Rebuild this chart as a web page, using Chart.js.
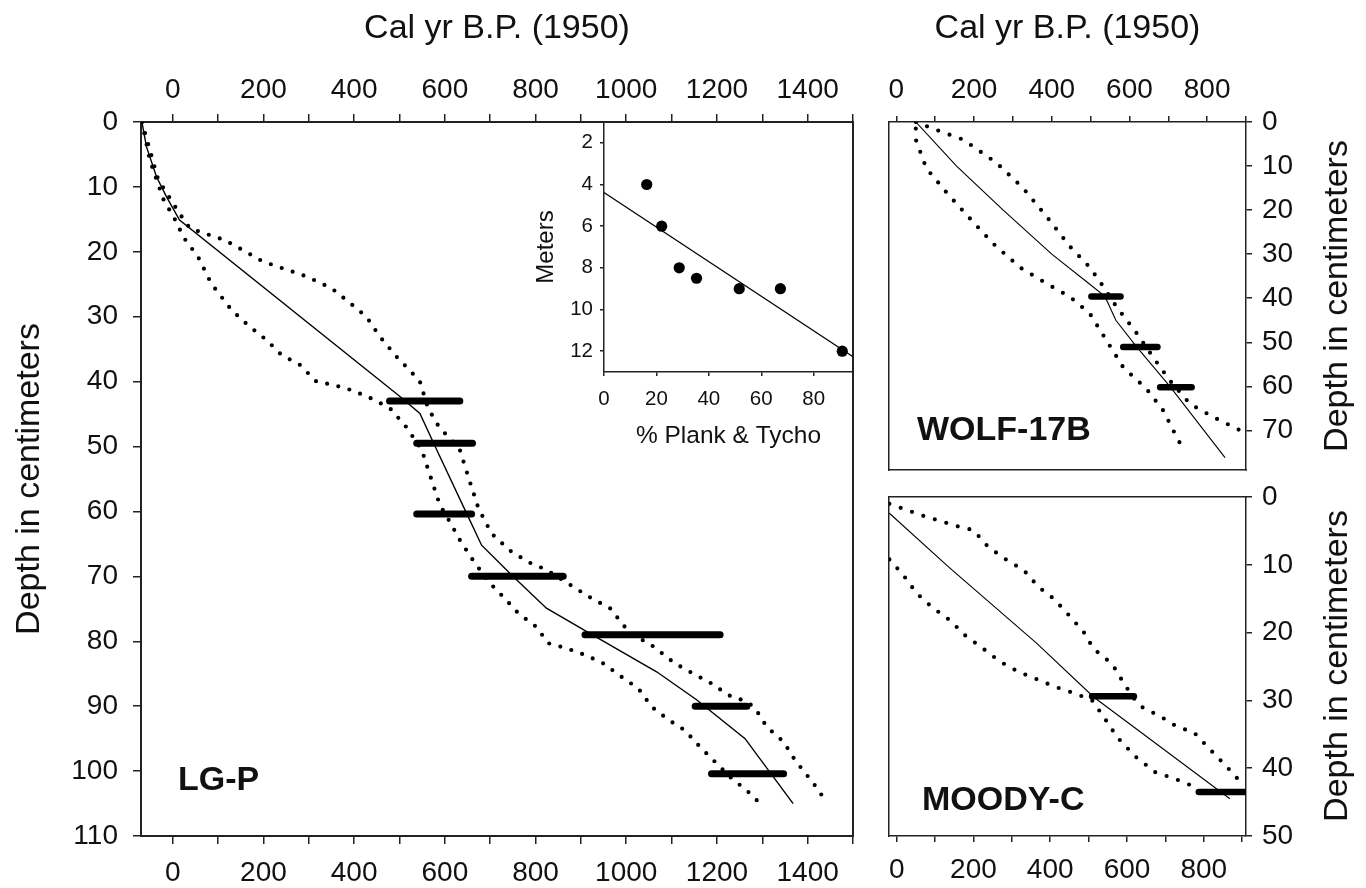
<!DOCTYPE html>
<html>
<head>
<meta charset="utf-8">
<script src="https://cdn.jsdelivr.net/npm/chart.js@4.4.1/dist/chart.umd.min.js"></script>
<style>
  body { margin: 0; background: #fff; }
  #page { position: relative; width: 1366px; height: 888px; overflow: hidden; background: #fff; }
  canvas { position: absolute; }
</style>
</head>
<body>
<div id="page">
  <canvas id="lgp" width="880" height="888" style="left:0px;top:0px"></canvas>
  <canvas id="inset" width="360" height="360" style="left:500px;top:100px"></canvas>
  <canvas id="wolf" width="496" height="480" style="left:870px;top:0px"></canvas>
  <canvas id="moody" width="496" height="408" style="left:870px;top:480px"></canvas>
</div>
<script>
// ---- LG-P core (age in cal yr BP, depth in cm) ----
const lgpAge = [-68, -58, -36, -14, 15, 501, 545, 582, 648, 681, 750, 824, 913, 1067, 1155, 1262, 1368];
const lgpDepth = [0, 3.8, 8.4, 11.5, 15.1, 42.3, 44.9, 50.5, 60.3, 65.2, 70, 74.9, 78.5, 84.7, 89, 95, 105];
const lgpOldAge = [-68, -32, 15, 38, 115, 199, 295, 350, 391, 427, 457, 494, 527, 545, 563, 589, 611, 633, 655, 674, 703, 743, 784, 824, 883, 924, 964, 997, 1016, 1060, 1107, 1148, 1188, 1225, 1266, 1284, 1310, 1347, 1372, 1413, 1431];
const lgpOldDepth = [0, 8.9, 14.1, 16.4, 18.2, 21.5, 23.8, 25.6, 27.9, 30, 33.1, 36.2, 38.6, 40, 44.1, 47.2, 48.7, 50.5, 55.4, 59.5, 63.4, 66, 67.8, 69, 71.6, 73.4, 74.9, 77.8, 79, 80.8, 83.4, 85, 86.5, 88.3, 89.3, 90.3, 93.2, 95.5, 98.3, 101.9, 103.7];
const lgpYoungAge = [-68, -50, -20, 8, 23, 56, 85, 130, 166, 207, 240, 280, 317, 354, 394, 438, 479, 515, 549, 571, 589, 611, 633, 659, 696, 732, 762, 802, 828, 869, 909, 949, 990, 1027, 1056, 1093, 1129, 1163, 1196, 1229, 1269, 1288];
const lgpYoungDepth = [0, 6, 12, 15.4, 17.7, 20.8, 24.9, 29, 31.3, 33.6, 35.9, 37.4, 40, 40.5, 41.3, 42.6, 44.1, 47, 50.5, 55.2, 59, 61.6, 64.4, 67.2, 70.8, 73.4, 75.7, 77.8, 80.3, 81.1, 82.1, 83.4, 85.5, 87.3, 90.1, 92.1, 93.7, 96.3, 98.6, 100.9, 103.2, 104.5];
const lgpDashDepth = [43, 49.5, 60.4, 70, 79, 90, 100.4];
const lgpDashFrom = [478, 538, 538, 659, 909, 1152, 1188];
const lgpDashTo = [633, 661, 659, 861, 1207, 1266, 1347];
const lgpAgeTicks = [0, 100, 200, 300, 400, 500, 600, 700, 800, 900, 1000, 1100, 1200, 1300, 1400, 1500];
const lgpAgeLabels = ['0', '', '200', '', '400', '', '600', '', '800', '', '1000', '', '1200', '', '1400', ''];
const lgpDepthTicks = [0, 10, 20, 30, 40, 50, 60, 70, 80, 90, 100, 110];

// ---- inset: depth vs % Plank & Tycho ----
const insetPct = [16.3, 22, 28.7, 35.3, 51.6, 67.3, 90.9];
const insetMeters = [4, 6, 8, 8.5, 9, 9, 12];
const insetFitPct = [0, 95];
const insetFitMeters = [4.38, 12.27];
const insetPctTicks = [0, 20, 40, 60, 80];
const insetMeterTicks = [2, 4, 6, 8, 10, 12];

// ---- WOLF-17B ----
const wolfAge = [50, 155, 275, 400, 493, 537, 565, 618, 704, 846];
const wolfDepth = [0, 10, 20, 30, 36.5, 39.6, 45, 51, 60, 76.2];
const wolfOldAge = [50, 103, 172, 258, 326, 387, 447, 498, 533, 567, 619, 661, 704, 756, 816, 885, 900];
const wolfOldDepth = [0, 1.8, 4, 9.3, 15, 21.5, 28.3, 33, 37.4, 42, 48, 53.4, 58.7, 64, 67, 70, 70.8];
const wolfYoungAge = [50, 50, 77, 129, 185, 249, 318, 387, 447, 498, 541, 584, 644, 687, 722, 743];
const wolfYoungDepth = [1.5, 4, 10.5, 16, 21.5, 27.6, 33, 36.7, 39.7, 43.5, 49.6, 55.7, 60.6, 65.5, 71.6, 75];
const wolfDashDepth = [39.6, 51.1, 60.2];
const wolfDashFrom = [502, 584, 679];
const wolfDashTo = [577, 672, 760];
const wolfDepthTicks = [0, 10, 20, 30, 40, 50, 60, 70];

// ---- MOODY-C ----
const moodyAge = [-19, 135, 365, 513, 868];
const moodyDepth = [2.4, 10.3, 21.6, 29.5, 44.5];
const moodyOldAge = [-19, 65, 157, 200, 239, 287, 331, 370, 409, 448, 487, 513, 561, 592, 618, 640, 688, 731, 774, 814, 857, 892];
const moodyOldDepth = [1, 2.7, 4.3, 4.9, 7.4, 9.3, 10.8, 13.3, 15, 17.4, 19.9, 22.4, 24.6, 27.5, 29.7, 31, 32.4, 33.9, 34.7, 37.1, 39.6, 41.8];
const moodyYoungAge = [-19, 17, 52, 91, 139, 178, 226, 270, 318, 366, 413, 466, 509, 539, 574, 622, 674, 722, 766, 788];
const moodyYoungDepth = [9.2, 11.5, 14.2, 16.2, 18.2, 20.4, 22.4, 24.3, 25.8, 26.9, 28, 29, 30, 32.4, 35.4, 38.3, 40.6, 41.5, 42.5, 43.3];
const moodyDashDepth = [29.4, 43.5];
const moodyDashFrom = [509, 787];
const moodyDashTo = [618, 910];
const moodyDepthTicks = [0, 10, 20, 30, 40, 50];

// small-core age axis (WOLF + MOODY)
const smallAgeTicks = [0, 100, 200, 300, 400, 500, 600, 700, 800, 900];
const smallAgeLabels = ['0', '', '200', '', '400', '', '600', '', '800', ''];

const FONT = '"Liberation Sans", Arial, Helvetica, sans-serif';
const INK = '#111';
const AXIS = '#222';
const TITLE = 'Cal yr B.P. (1950)';
const YTITLE = 'Depth in centimeters';

function pts(xs, ys) { return xs.map(function (x, i) { return {x: x, y: ys[i]}; }); }
function solid(xs, ys, w) {
    return {data: pts(xs, ys), showLine: true, borderColor: '#000', borderWidth: w || 1.4, pointRadius: 0, fill: false};
}
function dotted(xs, ys, gap) {
    return {data: pts(xs, ys), showLine: true, borderColor: '#000', borderWidth: 4.2,
            borderDash: [0, gap], borderCapStyle: 'round', borderJoinStyle: 'round', pointRadius: 0, fill: false};
}
function dashes(from, to, depth, w) {
    return depth.map(function (d, i) {
        return {data: [{x: from[i], y: d}, {x: to[i], y: d}], showLine: true, borderColor: '#000',
                borderWidth: w, borderCapStyle: 'round', pointRadius: 0, fill: false};
    });
}
function setTicks(vals) { return function (s) { s.ticks = vals.map(function (v) { return {value: v}; }); }; }
// fixed box size, and no extra room for label overhang
function fix(prop, v) {
    return function (s) {
        s[prop] = v;
        s.paddingTop = 0; s.paddingBottom = 0; s.paddingLeft = 0; s.paddingRight = 0;
    };
}
function labelFrom(vals, labels) { return function (v) { const i = vals.indexOf(v); return i < 0 ? '' : labels[i]; }; }

// axis with ticks + labels
function tickAxis(o) {
    return {
        type: 'linear', axis: o.axis, position: o.position, min: o.min, max: o.max, reverse: !!o.reverse,
        afterBuildTicks: setTicks(o.ticks),
        afterFit: fix(o.axis === 'x' ? 'height' : 'width', o.size),
        ticks: {autoSkip: false, maxRotation: 0, padding: o.pad, color: INK,
                font: {family: FONT, size: o.fontSize || 28},
                callback: o.labels ? labelFrom(o.ticks, o.labels) : function (v) { return String(v); }},
        grid: {drawOnChartArea: false, tickLength: o.tick, color: AXIS, lineWidth: 1.5},
        border: {display: true, color: AXIS, width: o.border || 1.5},
        title: o.title ? {display: true, text: o.title, color: INK, font: {family: FONT, size: o.titleSize},
                          padding: o.titlePad} : {display: false}
    };
}
// plain frame line, no ticks
function frameAxis(axis, position, w, size) {
    return {
        type: 'linear', axis: axis, position: position,
        afterFit: fix(axis === 'x' ? 'height' : 'width', size || 0),
        ticks: {display: false},
        grid: {drawOnChartArea: false, drawTicks: false},
        border: {display: true, color: AXIS, width: w || 1.5}
    };
}

// free text (panel names, right-hand rotated titles)
const panelText = {
    id: 'panelText',
    afterDraw: function (chart, args, opts) {
        const ctx = chart.ctx;
        (opts.items || []).forEach(function (t) {
            ctx.save();
            ctx.font = t.font;
            ctx.fillStyle = INK;
            ctx.textAlign = t.align || 'left';
            ctx.textBaseline = t.baseline || 'alphabetic';
            ctx.translate(t.x, t.y);
            if (t.rot) ctx.rotate(t.rot);
            ctx.fillText(t.text, 0, 0);
            ctx.restore();
        });
    }
};

const common = {responsive: false, animation: false, devicePixelRatio: 1, events: []};
function basePlugins(items) {
    return {legend: {display: false}, tooltip: {enabled: false}, panelText: {items: items || []}};
}

// ---------- LG-P ----------
new Chart(document.getElementById('lgp'), {
    type: 'scatter',
    data: {
        datasets: [
            solid(lgpAge, lgpDepth),
            dotted(lgpOldAge, lgpOldDepth, 11.5),
            dotted(lgpYoungAge, lgpYoungDepth, 11.5)
        ].concat(dashes(lgpDashFrom, lgpDashTo, lgpDashDepth, 7))
    },
    options: Object.assign({}, common, {
        layout: {padding: 0},
        scales: {
            x: tickAxis({axis: 'x', position: 'bottom', min: -70, max: 1500, ticks: lgpAgeTicks, labels: lgpAgeLabels,
                         size: 52, pad: 12, tick: 8, border: 2}),
            xTop: tickAxis({axis: 'x', position: 'top', min: -70, max: 1500, ticks: lgpAgeTicks, labels: lgpAgeLabels,
                            size: 122, pad: 7, tick: 8, border: 2,
                            title: TITLE, titleSize: 34, titlePad: {top: 8, bottom: 0}}),
            y: tickAxis({axis: 'y', position: 'left', min: 0, max: 110, reverse: true, ticks: lgpDepthTicks,
                         size: 141, pad: 15, tick: 8, border: 2,
                         title: YTITLE, titleSize: 34, titlePad: {top: 9, bottom: 0}}),
            yR: frameAxis('y', 'right', 2, 27)
        },
        plugins: basePlugins([
            {text: 'LG-P', x: 178, y: 790, font: 'bold 34px ' + FONT}
        ])
    }),
    plugins: [panelText]
});

// ---------- inset ----------
new Chart(document.getElementById('inset'), {
    type: 'scatter',
    data: {
        datasets: [
            solid(insetFitPct, insetFitMeters, 1.2),
            {data: pts(insetPct, insetMeters), showLine: false, pointRadius: 5.6, pointBorderWidth: 0,
             pointBackgroundColor: '#000', pointBorderColor: '#000'}
        ]
    },
    options: Object.assign({}, common, {
        layout: {padding: {top: 22, right: 7}},
        scales: {
            x: tickAxis({axis: 'x', position: 'bottom', min: 0, max: 95, ticks: insetPctTicks,
                         size: 88, pad: 11, tick: 4, fontSize: 20.5,
                         title: '% Plank & Tycho', titleSize: 24.5, titlePad: {top: 0, bottom: 9}}),
            y: tickAxis({axis: 'y', position: 'left', min: 1, max: 13, reverse: true, ticks: insetMeterTicks,
                         size: 104, pad: 7, tick: 4, fontSize: 20.5,
                         title: 'Meters', titleSize: 24, titlePad: {top: 32, bottom: 0}})
        },
        plugins: basePlugins([])
    }),
    plugins: [panelText]
});

// ---------- WOLF-17B ----------
new Chart(document.getElementById('wolf'), {
    type: 'scatter',
    data: {
        datasets: [
            solid(wolfAge, wolfDepth, 1.1),
            dotted(wolfOldAge, wolfOldDepth, 12),
            dotted(wolfYoungAge, wolfYoungDepth, 12)
        ].concat(dashes(wolfDashFrom, wolfDashTo, wolfDashDepth, 6.5))
    },
    options: Object.assign({}, common, {
        layout: {padding: {left: 19, bottom: 10}},
        scales: {
            x: tickAxis({axis: 'x', position: 'top', min: -19, max: 900, ticks: smallAgeTicks, labels: smallAgeLabels,
                         size: 122, pad: 9, tick: 6,
                         title: TITLE, titleSize: 34, titlePad: {top: 8, bottom: 0}}),
            xb: frameAxis('x', 'bottom'),
            y: tickAxis({axis: 'y', position: 'right', min: 0, max: 79, reverse: true, ticks: wolfDepthTicks,
                         size: 120, pad: 10, tick: 6}),
            yl: frameAxis('y', 'left')
        },
        plugins: basePlugins([
            {text: 'WOLF-17B', x: 47, y: 440, font: 'bold 34px ' + FONT},
            {text: YTITLE, x: 468, y: 296, rot: -Math.PI / 2, align: 'center', baseline: 'middle', font: '34px ' + FONT}
        ])
    }),
    plugins: [panelText]
});

// ---------- MOODY-C ----------
new Chart(document.getElementById('moody'), {
    type: 'scatter',
    data: {
        datasets: [
            solid(moodyAge, moodyDepth, 1.1),
            dotted(moodyOldAge, moodyOldDepth, 12),
            dotted(moodyYoungAge, moodyYoungDepth, 12)
        ].concat(dashes(moodyDashFrom, moodyDashTo, moodyDashDepth, 6.5))
    },
    options: Object.assign({}, common, {
        layout: {padding: {left: 19, top: 17}},
        scales: {
            x: tickAxis({axis: 'x', position: 'bottom', min: -20, max: 910, ticks: smallAgeTicks, labels: smallAgeLabels,
                         size: 52, pad: 11, tick: 6}),
            xt: frameAxis('x', 'top'),
            y: tickAxis({axis: 'y', position: 'right', min: 0, max: 50, reverse: true, ticks: moodyDepthTicks,
                         size: 120, pad: 10, tick: 6}),
            yl: frameAxis('y', 'left')
        },
        plugins: basePlugins([
            {text: 'MOODY-C', x: 52, y: 330, font: 'bold 34px ' + FONT},
            {text: YTITLE, x: 468, y: 186, rot: -Math.PI / 2, align: 'center', baseline: 'middle', font: '34px ' + FONT}
        ])
    }),
    plugins: [panelText]
});
</script>
</body>
</html>
